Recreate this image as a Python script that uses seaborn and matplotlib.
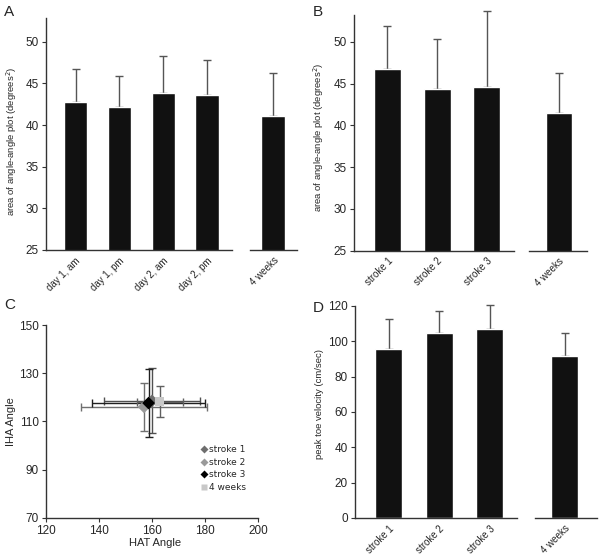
import numpy as np
import pandas as pd
import matplotlib
matplotlib.use("Agg")
import matplotlib.pyplot as plt
import seaborn as sns

# ---- data ----
a_labels = ['day 1, am', 'day 1, pm', 'day 2, am', 'day 2, pm', '4 weeks']
a_means = [42.8, 42.2, 43.9, 43.6, 41.1]
a_sd = [3.9, 3.7, 4.4, 4.2, 5.2]

b_labels = ['stroke 1', 'stroke 2', 'stroke 3', '4 weeks']
b_means = [46.7, 44.3, 44.6, 41.5]
b_sd = [5.2, 6.0, 9.1, 4.8]

d_labels = ['stroke 1', 'stroke 2', 'stroke 3', '4 weeks']
d_means = [95.5, 104.9, 107.1, 91.7]
d_sd = [17.1, 12.4, 13.4, 13.2]

c_groups = ['stroke 1', 'stroke 2', 'stroke 3', '4 weeks']
c_hat = [160.0, 157.0, 158.7, 163.0]
c_hat_sd = [18.2, 23.7, 21.4, 8.8]
c_iha = [118.5, 116.0, 117.6, 118.2]
c_iha_sd = [13.5, 10.0, 14.0, 6.5]

sns.set_style("white")
plt.rcParams['font.family'] = ['Liberation Sans', 'DejaVu Sans']

W, H = 600, 557
fig = plt.figure(figsize=(6, 5.57), dpi=100)


def px_axes(x0, y0, x1, y1):
    # pixel box (top-left origin) -> figure axes
    return fig.add_axes([x0 / W, 1 - y1 / H, (x1 - x0) / W, (y1 - y0) / H])


BAR = '#111111'
ERR = '#555555'
SPINE = '#333333'


def style_spines(ax, left=True):
    sns.despine(ax=ax, left=not left)
    for s in ['left', 'bottom']:
        ax.spines[s].set_color(SPINE)
        ax.spines[s].set_linewidth(1.0)


def bar_part(ax, labels, means, sd, xlim, ylim, left=True):
    df = pd.DataFrame({'cat': labels, 'val': means})
    sns.barplot(data=df, x='cat', y='val', color=BAR, width=0.54,
                saturation=1, ax=ax, errorbar=None, zorder=2)
    xs = np.arange(len(labels))
    # upper error only, drawn behind the bar so the lower cap is hidden
    ax.errorbar(xs, means, yerr=[np.zeros(len(sd)), sd], fmt='none',
                ecolor=ERR, elinewidth=1.0, capsize=3, capthick=1.0,
                clip_on=False, zorder=0.5)
    ax.set_xlim(*xlim)
    ax.set_ylim(*ylim)
    ax.set_xlabel('')
    ax.set_ylabel('')
    ax.set_xticks(xs)
    ax.set_xticklabels(labels, rotation=45, ha='right',
                       rotation_mode='anchor', fontsize=7)
    ax.tick_params(axis='x', length=0, pad=4)
    # small tick marks at category borders and segment ends
    minor = [xlim[0]] + [i + 0.5 for i in range(len(labels) - 1)] + [xlim[1]]
    ax.set_xticks(minor, minor=True)
    ax.tick_params(axis='x', which='minor', direction='out', length=3,
                   color=SPINE, width=0.8)
    style_spines(ax, left)
    if left:
        ax.tick_params(axis='y', direction='out', length=3, color=SPINE,
                       width=0.8, labelsize=8.5, pad=2, left=True)
    else:
        ax.set_yticks([])
    ax.patch.set_alpha(0)


# ---- panel A ----
axA = px_axes(45.7, 18, 231.7, 250)
bar_part(axA, a_labels[:4], a_means[:4], a_sd[:4], (-0.679, 3.556), (25, 52.85))
axA.set_yticks([25, 30, 35, 40, 45, 50])
axA.set_ylabel('area of angle-angle plot (degrees$^2$)', fontsize=6.8)
axA.yaxis.set_label_coords(-0.141, 0.47)
axA2 = px_axes(250, 18, 297, 250)
bar_part(axA2, a_labels[4:], a_means[4:], a_sd[4:], (-0.531, 0.54), (25, 52.85), left=False)

# ---- panel B ----
axB = px_axes(354, 15, 514, 250.7)
bar_part(axB, b_labels[:3], b_means[:3], b_sd[:3], (-0.674, 2.547), (25, 53.2))
axB.set_yticks([25, 30, 35, 40, 45, 50])
axB.set_ylabel('area of angle-angle plot (degrees$^2$)', fontsize=6.8)
axB.yaxis.set_label_coords(-0.175, 0.48)
axB2 = px_axes(529, 15, 586.7, 250.7)
bar_part(axB2, b_labels[3:], b_means[3:], b_sd[3:], (-0.604, 0.557), (25, 53.2), left=False)

# ---- panel D ----
axD = px_axes(355, 306, 516.7, 518)
bar_part(axD, d_labels[:3], d_means[:3], d_sd[:3], (-0.667, 2.535), (0, 120))
axD.set_yticks([0, 20, 40, 60, 80, 100, 120])
axD.set_ylabel('peak toe velocity (cm/sec)', fontsize=6.8)
axD.yaxis.set_label_coords(-0.189, 0.54)
axD2 = px_axes(535, 306, 596.7, 518)
bar_part(axD2, d_labels[3:], d_means[3:], d_sd[3:], (-0.588, 0.634), (0, 120), left=False)

# ---- panel C ----
axC = px_axes(45.7, 325, 258.3, 517.7)
dfc = pd.DataFrame({'group': c_groups, 'hat': c_hat, 'iha': c_iha,
                    'hat_sd': c_hat_sd, 'iha_sd': c_iha_sd})
c_colors = {'stroke 1': '#6e6e6e', 'stroke 2': '#9a9a9a',
            'stroke 3': '#000000', '4 weeks': '#c8c8c8'}
c_err = {'stroke 1': '#505050', 'stroke 2': '#707070',
         'stroke 3': '#202020', '4 weeks': '#606060'}
c_markers = {'stroke 1': 'D', 'stroke 2': 'D', 'stroke 3': 'D', '4 weeks': 's'}
for _, r in dfc.iterrows():
    axC.errorbar(r['hat'], r['iha'], xerr=r['hat_sd'], yerr=r['iha_sd'],
                 fmt='none', ecolor=c_err[r['group']], elinewidth=1.0,
                 capsize=3, capthick=1.0, zorder=1)
sns.scatterplot(data=dfc, x='hat', y='iha', hue='group', style='group',
                palette=c_colors, markers=c_markers, s=42, edgecolor='none',
                ax=axC, zorder=3)
axC.set_xlim(120, 200)
axC.set_ylim(70, 150)
axC.set_xticks([120, 140, 160, 180, 200])
axC.set_yticks([70, 90, 110, 130, 150])
axC.set_xlabel('HAT Angle', fontsize=8)
axC.set_ylabel('IHA Angle', fontsize=8)
axC.xaxis.set_label_coords(0.514, -0.105)
axC.yaxis.set_label_coords(-0.14, 0.5)
style_spines(axC)
axC.tick_params(axis='both', direction='out', length=3, color=SPINE,
                width=0.8, labelsize=8.5, pad=2, left=True, bottom=True)
leg = axC.legend(loc='upper left', bbox_to_anchor=(0.7, 0.40), frameon=False,
                 prop={'family': 'DejaVu Sans', 'size': 6.5},
                 handletextpad=0.1, labelspacing=0.4, borderpad=0,
                 handlelength=1.0, markerscale=0.7)

# panel letters
for lab, x, y in [('A', 9, 12.5), ('B', 317.5, 12.5), ('C', 10, 305), ('D', 318, 307.5)]:
    fig.text(x / W, 1 - y / H, lab, ha='center', va='center', fontsize=11)

fig.savefig('out.png', dpi=100)
